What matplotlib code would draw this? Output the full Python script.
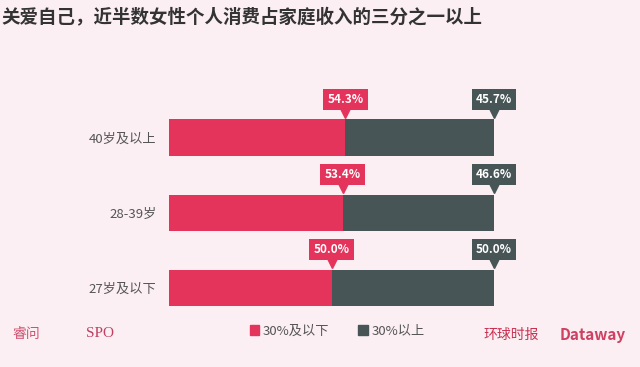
import matplotlib.pyplot as plt
from matplotlib.transforms import offset_copy
from matplotlib.patches import Patch

plt.rcParams['font.family'] = ['Noto Sans CJK SC', 'DejaVu Sans']

# data
groups = ["27岁及以下", "28-39岁", "40岁及以上"]
low_share = [50.0, 53.4, 54.3]    # 30%及以下
high_share = [50.0, 46.6, 45.7]   # 30%以上
series_names = ["30%及以下", "30%以上"]

title = "关爱自己，近半数女性个人消费占家庭收入的三分之一以上"

pink = "#e4345c"
grey = "#475556"
bg = "#fbeff3"

fig = plt.figure(figsize=(6.4, 3.67), dpi=100, facecolor=bg)
ax = fig.add_axes([169 / 640, 42 / 367, 325 / 640, 225 / 367])
ax.set_facecolor(bg)

ypos = list(range(len(groups)))
bar_h = 0.48
ax.barh(ypos, low_share, height=bar_h, color=pink)
ax.barh(ypos, high_share, left=low_share, height=bar_h, color=grey)

ax.set_xlim(0, 100)
ax.set_ylim(-0.5, 2.5)
ax.set_yticks(ypos)
ax.set_yticklabels(groups, fontsize=9.5, color="#555555")
ax.tick_params(axis="y", length=0, pad=9)
ax.set_xticks([])
for s in ax.spines.values():
    s.set_visible(False)

tri = offset_copy(ax.transData, fig=fig, x=0, y=4.5, units="points")


def callout(x, y, txt, c):
    ax.annotate(txt, xy=(x, y + bar_h / 2), xytext=(0, 14.5),
                textcoords="offset points", ha="center", va="center",
                color="white", fontsize=8.5, fontweight="bold",
                bbox=dict(boxstyle="square,pad=0.35", fc=c, ec="none"))
    ax.plot([x], [y + bar_h / 2], marker="v", ms=6.5, color=c,
            transform=tri, clip_on=False)


for i in ypos:
    callout(low_share[i], i, "%.1f%%" % low_share[i], pink)
    callout(low_share[i] + high_share[i], i, "%.1f%%" % high_share[i], grey)

fig.text(0.002, 0.953, title, fontsize=13.3, fontweight="bold",
         color="#333333", ha="left", va="center")

handles = [Patch(color=pink), Patch(color=grey)]
fig.legend(handles, series_names, loc="center", ncol=2, frameon=False,
           bbox_to_anchor=(0.527, 0.098), fontsize=9.5, handlelength=0.7,
           handleheight=0.7, handletextpad=0.3, columnspacing=2.2,
           labelcolor="#555555")

# logos at the bottom, as plain text
fig.text(0.02, 0.09, "睿问", fontsize=10, color="#d05070", va="center")
fig.text(0.135, 0.09, "SPO", fontsize=11, color="#c04060", va="center",
         family=["Liberation Serif"])
fig.text(0.755, 0.088, "环球时报", fontsize=10, color="#c83050", va="center")
fig.text(0.875, 0.088, "Dataway", fontsize=11, color="#d04060",
         va="center", fontweight="bold", style="italic")

fig.savefig("out.png", dpi=100, facecolor=bg)
